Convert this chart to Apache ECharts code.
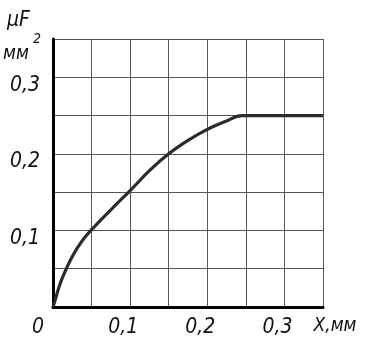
<!DOCTYPE html>
<html><head><meta charset="utf-8">
<script src="https://cdn.jsdelivr.net/npm/echarts@6/dist/echarts.min.js"></script>
<style>html,body{margin:0;padding:0;background:#fff}#c{width:365px;height:344px}</style>
</head><body><div id="c"></div>
<script>
// Data
const xValues = [0, 0.0025, 0.0075, 0.0125, 0.025, 0.0375, 0.05, 0.075, 0.1, 0.125, 0.15, 0.175, 0.2, 0.225, 0.245, 0.3, 0.35];
const yValues = [0, 0.008, 0.025, 0.039, 0.066, 0.086, 0.101, 0.127, 0.152, 0.178, 0.2, 0.2175, 0.232, 0.243, 0.25, 0.25, 0.25];
const xTickValues = [0, 0.1, 0.2, 0.3, 0.35];
const xTickLabels = ['0', '0,1', '0,2', '0,3', 'X,мм'];
const yTickValues = [0.1, 0.2, 0.3];
const yTickLabels = ['0,1', '0,2', '0,3'];
const yNameParts = ['μF', 'мм', '2'];

const FONT = '"DejaVu Sans Condensed", "Liberation Sans Narrow", "Liberation Sans", sans-serif';
const key = v => Math.round(v * 1000);
const txt = (size) => ({fontFamily: FONT, fontStyle: 'italic', fontSize: size, color: '#111'});

const chart = echarts.init(document.getElementById('c'), null, {renderer: 'canvas'});
chart.setOption({
  animation: false,
  backgroundColor: '#fff',
  grid: {left: 53, top: 39, right: 42, bottom: 37, containLabel: false, outerBoundsMode: 'none'},
  graphic: [
    {type: 'text', left: 7, top: 10, style: Object.assign({text: yNameParts[0]}, txt(21), {fill: '#111'})},
    {type: 'text', left: 3, top: 45, style: Object.assign({text: yNameParts[1]}, txt(19), {fill: '#111'})},
    {type: 'text', left: 33, top: 32, style: Object.assign({text: yNameParts[2]}, txt(14), {fill: '#111'})}
  ],
  xAxis: {
    type: 'value', min: 0, max: 0.35, interval: 0.05,
    axisLine: {show: true, onZero: false, lineStyle: {color: '#000', width: 3}},
    axisTick: {show: false},
    splitLine: {show: true, showMinLine: false, lineStyle: {color: '#555', width: 1}},
    axisLabel: {
      show: true, showMinLabel: true, showMaxLabel: true, margin: 10, hideOverlap: false,
      ...txt(21),
      formatter: v => {
        const i = xTickValues.findIndex(t => key(t) === key(v));
        if (i < 0) return '';
        if (i === 0) return '{o|' + xTickLabels[i] + '}';
        if (i === xTickLabels.length - 1) return '{n|' + xTickLabels[i] + '}';
        return '{d|' + xTickLabels[i] + '}';
      },
      rich: {
        o: {...txt(21), padding: [0, 30, 0, 0]},
        d: {...txt(21), padding: [0, 14, 0, 0]},
        n: {...txt(19), padding: [0, 0, 0, 24]}
      }
    }
  },
  yAxis: {
    type: 'value', min: 0, max: 0.35, interval: 0.05,
    axisLine: {show: true, onZero: false, lineStyle: {color: '#000', width: 3}},
    axisTick: {show: false},
    splitLine: {show: true, showMinLine: false, lineStyle: {color: '#555', width: 1}},
    axisLabel: {
      show: true, margin: 13, ...txt(21),
      formatter: v => {
        const i = yTickValues.findIndex(t => key(t) === key(v));
        return i < 0 ? '' : '{y|' + yTickLabels[i] + '}';
      },
      rich: {y: {...txt(21), padding: [16, 0, 0, 0]}}
    }
  },
  series: [{
    type: 'line',
    data: xValues.map((x, i) => [x, yValues[i]]),
    smooth: 0.4,
    showSymbol: false,
    lineStyle: {color: '#2b2b2b', width: 3.2},
    z: 5
  }]
});
</script></body></html>
